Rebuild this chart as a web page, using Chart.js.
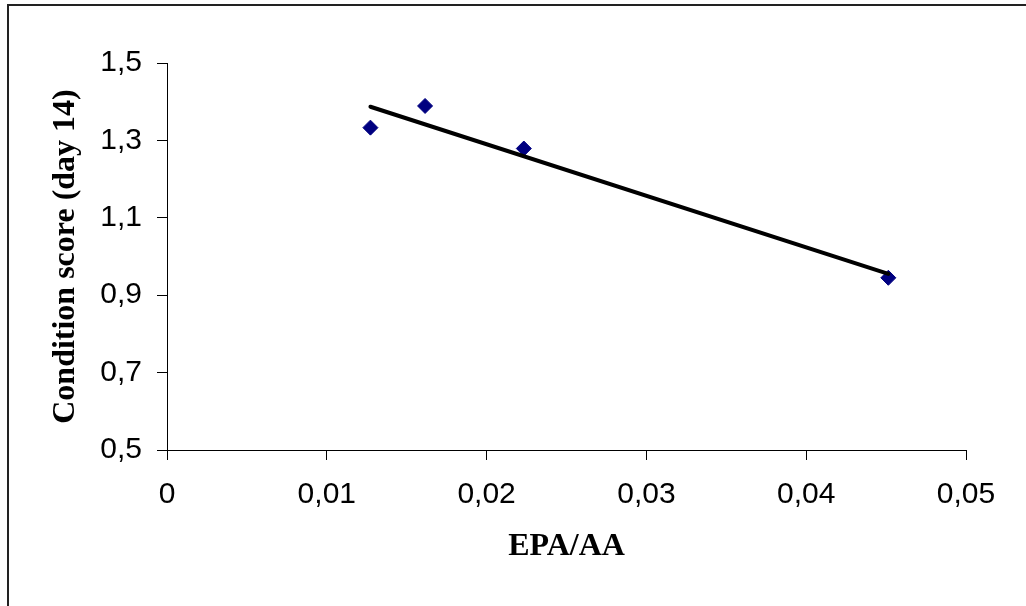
<!DOCTYPE html>
<html>
<head>
<meta charset="utf-8">
<script src="https://cdn.jsdelivr.net/npm/chart.js@4"></script>
<style>
  html, body { margin: 0; padding: 0; background: #fff; overflow: hidden; }
  #chart { display: block; }
</style>
</head>
<body>
<canvas id="chart" width="1026" height="606"></canvas>
<script>
// Data
const epaAA = [0.01273, 0.01615, 0.02233, 0.04514];
const conditionScore = [1.333, 1.389, 1.279, 0.945];

// Linear trend line ends (as drawn)
const trendX = [0.01273, 0.04514];
const trendY = [1.387, 0.955];

// Axis ticks
const xTickValues = [0, 0.01, 0.02, 0.03, 0.04, 0.05];
const xTickLabels = ['0', '0,01', '0,02', '0,03', '0,04', '0,05'];
const yTickValues = [0.5, 0.7, 0.9, 1.1, 1.3, 1.5];
const yTickLabels = ['0,5', '0,7', '0,9', '1,1', '1,3', '1,5'];

const tickFont = { family: "'Liberation Sans', Arial, sans-serif", size: 30 };
const titleFont = { family: "'Liberation Serif', 'Times New Roman', serif", size: 32, weight: 'bold' };

// Outer frame (top and left edges show, the rest runs off the picture)
const framePlugin = {
  id: 'frame',
  beforeDraw(chart) {
    const ctx = chart.ctx;
    ctx.save();
    ctx.fillStyle = '#fff';
    ctx.fillRect(0, 0, chart.width, chart.height);
    ctx.strokeStyle = '#222';
    ctx.lineWidth = 2;
    ctx.beginPath();
    ctx.moveTo(8, chart.height + 5);
    ctx.lineTo(8, 5);
    ctx.lineTo(chart.width + 5, 5);
    ctx.stroke();
    ctx.restore();
  }
};

new Chart(document.getElementById('chart'), {
  type: 'scatter',
  data: {
    datasets: [
      {
        label: 'Trend',
        type: 'line',
        data: trendX.map((x, i) => ({ x, y: trendY[i] })),
        borderColor: '#000',
        borderWidth: 4,
        borderCapStyle: 'round',
        pointRadius: 0,
        fill: false,
        order: 0
      },
      {
        label: 'Condition score',
        data: epaAA.map((x, i) => ({ x, y: conditionScore[i] })),
        pointStyle: 'rectRot',
        pointRadius: 7.5,
        pointBackgroundColor: '#000080',
        pointBorderColor: '#000080',
        pointBorderWidth: 1,
        order: 1
      }
    ]
  },
  options: {
    responsive: false,
    animation: false,
    devicePixelRatio: 1,
    layout: { padding: { left: 0, top: 63, right: 60, bottom: 0 } },
    plugins: {
      legend: { display: false },
      tooltip: { enabled: false }
    },
    scales: {
      x: {
        type: 'linear',
        min: 0,
        max: 0.05,
        afterBuildTicks: scale => { scale.ticks = xTickValues.map(v => ({ value: v })); },
        afterFit: scale => { scale.height = 156; },
        ticks: {
          color: '#000',
          font: tickFont,
          padding: 17,
          maxRotation: 0,
          callback: (v, i) => xTickLabels[i]
        },
        grid: { display: true, drawOnChartArea: false, tickLength: 10, color: '#000', lineWidth: 1 },
        border: { display: true, color: '#000', width: 1 },
        title: {
          display: true,
          text: 'EPA/AA',
          color: '#000',
          font: titleFont,
          padding: { top: 0, bottom: 40 }
        }
      },
      y: {
        type: 'linear',
        min: 0.5,
        max: 1.5,
        afterBuildTicks: scale => { scale.ticks = yTickValues.map(v => ({ value: v })); },
        afterFit: scale => { scale.width = 167; },
        ticks: {
          color: '#000',
          font: tickFont,
          padding: 15,
          callback: (v, i) => yTickLabels[i]
        },
        grid: { display: true, drawOnChartArea: false, tickLength: 10, color: '#000', lineWidth: 1 },
        border: { display: true, color: '#000', width: 1 },
        title: {
          display: true,
          text: 'Condition score (day 14)',
          color: '#000',
          font: titleFont,
          padding: { top: 47, bottom: 0 }
        }
      }
    }
  },
  plugins: [framePlugin]
});
</script>
</body>
</html>
